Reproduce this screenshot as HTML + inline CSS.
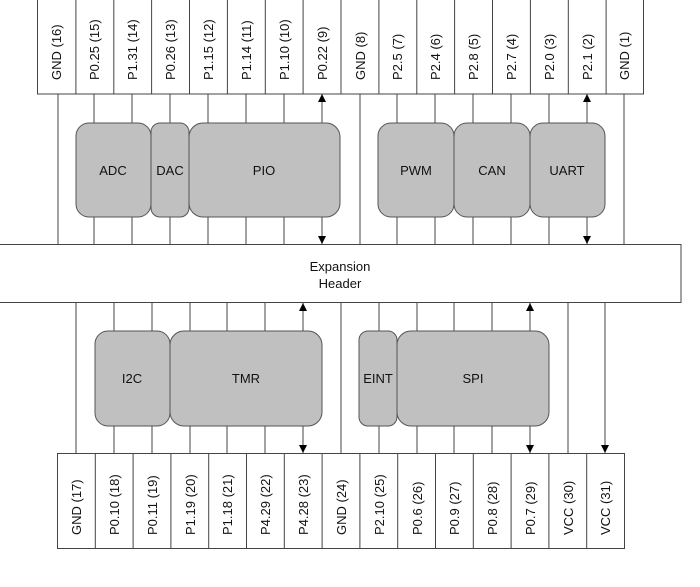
<!DOCTYPE html>
<html><head><meta charset="utf-8"><style>
html,body{margin:0;padding:0;background:#fff;}
svg{display:block;font-family:"Liberation Sans",sans-serif;}
</style></head><body>
<svg width="700" height="587" viewBox="0 0 700 587" xmlns="http://www.w3.org/2000/svg">
<defs>
<marker id="a" viewBox="0 0 10 10" refX="10" refY="5" markerWidth="10" markerHeight="8" markerUnits="userSpaceOnUse" orient="auto"><path d="M0,0 L10,5 L0,10 z" fill="#000"/></marker>
</defs>
<g stroke="#444" stroke-width="1" fill="none">
<!-- top cells -->
<rect x="37.5" y="-1" width="606" height="95" fill="#fff"/>
<path d="M75.9 0V94M113.8 0V94M151.6 0V94M189.5 0V94M227.4 0V94M265.3 0V94M303.1 0V94M341 0V94M378.9 0V94M416.8 0V94M454.6 0V94M492.5 0V94M530.4 0V94M568.3 0V94M606.1 0V94"/>
<!-- bottom cells -->
<rect x="57.5" y="453.5" width="567" height="95" fill="#fff"/>
<path d="M95.3 453V548M133.1 453V548M170.9 453V548M208.7 453V548M246.5 453V548M284.3 453V548M322.1 453V548M359.9 453V548M397.7 453V548M435.5 453V548M473.3 453V548M511.1 453V548M548.9 453V548M586.7 453V548"/>
<!-- header -->
<rect x="-1" y="244.5" width="682" height="58" fill="#fff"/>
<!-- ground lines -->
<path d="M58 94V244M360 94V244M624 94V244M76 303V453M341 303V453"/>
</g>
<g stroke="#444" stroke-width="1" marker-end="url(#a)">
<!-- top arrows up -->
<path d="M94 123V94M132 123V94M170 123V94M208 123V94M246 123V94M284 123V94M322 123V94"/>
<path d="M397 123V94M435 123V94M473 123V94M511 123V94M549 123V94M587 123V94"/>
<path d="M94 217V244M132 217V244M170 217V244M208 217V244M246 217V244M284 217V244M322 217V244"/>
<path d="M397 217V244M435 217V244M473 217V244M511 217V244M549 217V244M587 217V244"/>
<!-- bottom -->
<path d="M114 331V303M152 331V303M190 331V303M227 331V303M265 331V303M303 331V303"/>
<path d="M379 331V303M417 331V303M454 331V303M492 331V303M530 331V303"/>
<path d="M114 426V453M152 426V453M190 426V453M227 426V453M265 426V453M303 426V453"/>
<path d="M379 426V453M417 426V453M454 426V453M492 426V453M530 426V453"/>
<path d="M568 303V453M605 303V453"/>
</g>
<g fill="#c0c0c0" stroke="#555" stroke-width="1">
<rect x="76" y="123" width="75" height="94" rx="13"/>
<rect x="151" y="123" width="38" height="94" rx="9"/>
<rect x="189" y="123" width="151" height="94" rx="14"/>
<rect x="378" y="123" width="76" height="94" rx="13"/>
<rect x="454" y="123" width="76" height="94" rx="13"/>
<rect x="530" y="123" width="75" height="94" rx="13"/>
<rect x="95" y="331" width="75" height="95" rx="13"/>
<rect x="170" y="331" width="152" height="95" rx="14"/>
<rect x="359" y="331" width="38" height="95" rx="9"/>
<rect x="397" y="331" width="152" height="95" rx="14"/>
</g>
<g font-size="13" text-anchor="middle" fill="#111">
<text x="113" y="175">ADC</text><text x="170" y="175">DAC</text><text x="264" y="175">PIO</text>
<text x="416" y="175">PWM</text><text x="492" y="175">CAN</text><text x="567" y="175">UART</text>
<text x="132" y="383">I2C</text><text x="246" y="383">TMR</text><text x="378" y="383">EINT</text><text x="473" y="383">SPI</text>
<text x="340" y="271">Expansion</text><text x="340" y="288">Header</text>
</g>
<g font-size="13" fill="#111">
<text transform="translate(61,80) rotate(-90)">GND (16)</text>
<text transform="translate(99,80) rotate(-90)">P0.25 (15)</text>
<text transform="translate(137,80) rotate(-90)">P1.31 (14)</text>
<text transform="translate(175,80) rotate(-90)">P0.26 (13)</text>
<text transform="translate(213,80) rotate(-90)">P1.15 (12)</text>
<text transform="translate(251,80) rotate(-90)">P1.14 (11)</text>
<text transform="translate(289,80) rotate(-90)">P1.10 (10)</text>
<text transform="translate(327,80) rotate(-90)">P0.22 (9)</text>
<text transform="translate(365,80) rotate(-90)">GND (8)</text>
<text transform="translate(402,80) rotate(-90)">P2.5 (7)</text>
<text transform="translate(440,80) rotate(-90)">P2.4 (6)</text>
<text transform="translate(478,80) rotate(-90)">P2.8 (5)</text>
<text transform="translate(516,80) rotate(-90)">P2.7 (4)</text>
<text transform="translate(554,80) rotate(-90)">P2.0 (3)</text>
<text transform="translate(592,80) rotate(-90)">P2.1 (2)</text>
<text transform="translate(629,80) rotate(-90)">GND (1)</text>
<text transform="translate(81,535) rotate(-90)">GND (17)</text>
<text transform="translate(119,535) rotate(-90)">P0.10 (18)</text>
<text transform="translate(157,535) rotate(-90)">P0.11 (19)</text>
<text transform="translate(195,535) rotate(-90)">P1.19 (20)</text>
<text transform="translate(232,535) rotate(-90)">P1.18 (21)</text>
<text transform="translate(270,535) rotate(-90)">P4.29 (22)</text>
<text transform="translate(308,535) rotate(-90)">P4.28 (23)</text>
<text transform="translate(346,535) rotate(-90)">GND (24)</text>
<text transform="translate(384,535) rotate(-90)">P2.10 (25)</text>
<text transform="translate(422,535) rotate(-90)">P0.6 (26)</text>
<text transform="translate(459,535) rotate(-90)">P0.9 (27)</text>
<text transform="translate(497,535) rotate(-90)">P0.8 (28)</text>
<text transform="translate(535,535) rotate(-90)">P0.7 (29)</text>
<text transform="translate(573,535) rotate(-90)">VCC (30)</text>
<text transform="translate(610,535) rotate(-90)">VCC (31)</text>
</g>
</svg>
</body></html>
